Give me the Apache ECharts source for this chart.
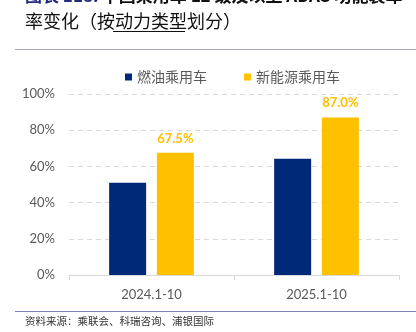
<!DOCTYPE html>
<html><head><meta charset="utf-8">
<script src="https://cdn.jsdelivr.net/npm/echarts@6/dist/echarts.min.js"></script>
<style>html,body{margin:0;padding:0;background:#fff}#c{width:416px;height:332px}</style>
</head><body><div id="c"></div>
<script>
const categories = ['2024.1-10', '2025.1-10'];
const seriesNames = ['燃油乘用车', '新能源乘用车'];
const fuelValues = [51.0, 64.2];
const nevValues = [67.5, 87.0];
const nevLabels = ['67.5%', '87.0%'];
const yTicks = [0, 20, 40, 60, 80, 100];

const cjk = '"Noto Sans CJK SC", sans-serif';
const latin = 'Lato, "Open Sans", sans-serif';
const chart = echarts.init(document.getElementById('c'), null, {renderer: 'canvas'});
chart.setOption({
  animation: false,
  backgroundColor: '#fff',
  graphic: [
    {type: 'text', left: 25, top: -13, style: {
      text: '{b|图表 118:} {k|中国乘用车 L2 级及以上 ADAS 功能装车}',
      rich: {
        b: {fill: '#1F2C7C', font: 'bold 17px ' + cjk},
        k: {fill: '#111', font: 'bold 17px ' + cjk}
      }}},
    {type: 'text', left: 25, top: 12, style: {
      text: '率变化（按动力类型划分）', fill: '#111', font: '18px ' + cjk}},
    {type: 'line', shape: {x1: 113, y1: 31.5, x2: 185, y2: 31.5}, style: {stroke: '#111', lineWidth: 1}},
    {type: 'line', shape: {x1: 15, y1: 49.5, x2: 416, y2: 49.5}, style: {stroke: '#A8A8CC', lineWidth: 1}},
    {type: 'line', shape: {x1: 15, y1: 311.5, x2: 416, y2: 311.5}, style: {stroke: '#8080B8', lineWidth: 1}},
    {type: 'text', left: 25, top: 316, style: {
      text: '资料来源：乘联会、科瑞咨询、浦银国际', fill: '#333', font: '10.5px ' + cjk}}
  ],
  legend: {
    left: 120, top: 65, itemWidth: 7, itemHeight: 7, itemGap: 37,
    icon: 'rect',
    textStyle: {color: '#595959', fontSize: 14, fontFamily: cjk},
    data: seriesNames
  },
  grid: {left: 69, right: 17, top: 94, bottom: 57, containLabel: false},
  xAxis: {
    type: 'category', data: categories,
    axisLine: {lineStyle: {color: '#D9D9D9'}},
    axisTick: {show: true, length: 5, lineStyle: {color: '#D9D9D9'}},
    axisLabel: {color: '#595959', fontSize: 13, fontFamily: latin, margin: 13}
  },
  yAxis: {
    type: 'value', min: yTicks[0], max: yTicks[yTicks.length - 1], interval: 20,
    axisLine: {show: false}, axisTick: {show: false},
    axisLabel: {color: '#595959', fontSize: 13, fontFamily: latin, margin: 14, formatter: v => v + '%'},
    splitLine: {lineStyle: {color: '#D9D9D9', type: [5, 4]}}
  },
  series: [
    {name: seriesNames[0], type: 'bar', data: fuelValues, barWidth: 37, barGap: '29%',
      itemStyle: {color: '#002A77'}},
    {name: seriesNames[1], type: 'bar', data: nevValues, barWidth: 37,
      itemStyle: {color: '#FFC000'},
      label: {show: true, position: 'top', distance: 8, color: '#FFC000', fontWeight: 'bold',
        fontSize: 13, fontFamily: latin, formatter: p => nevLabels[p.dataIndex]}}
  ]
});
</script></body></html>
